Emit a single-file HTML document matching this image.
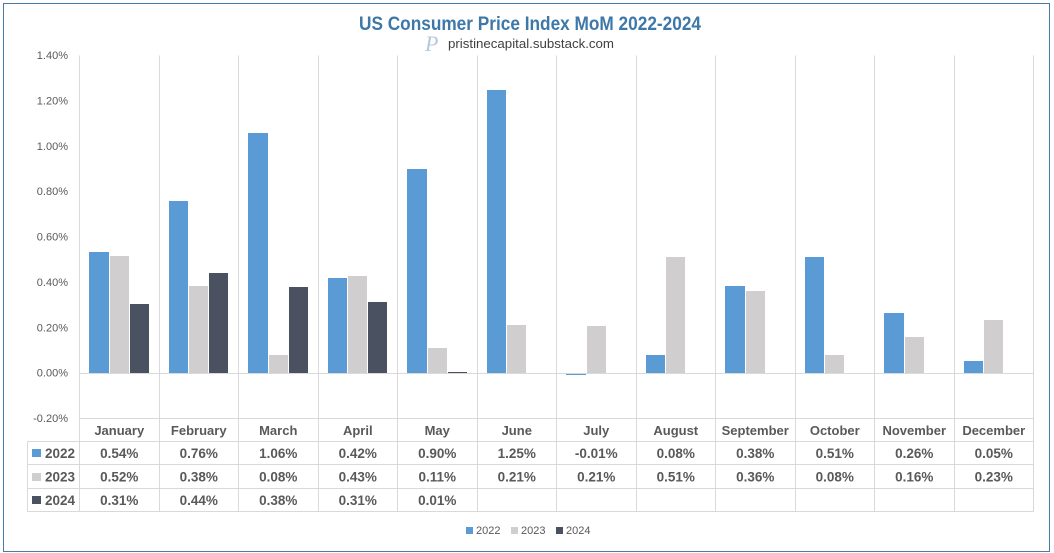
<!DOCTYPE html>
<html lang="en">
<head>
<meta charset="utf-8">
<title>US Consumer Price Index MoM 2022-2024</title>
<style>
html,body{margin:0;padding:0;background:#fff;width:1054px;height:553px;overflow:hidden}
svg{display:block;font-family:"Liberation Sans",sans-serif}
</style>
</head>
<body>
<svg id="chart" xmlns="http://www.w3.org/2000/svg" width="1054" height="553" viewBox="0 0 1054 553">
  <rect x="3.5" y="3.5" width="1046" height="548" fill="#fff" stroke="#4a7ba6" stroke-width="1"/>
  <text x="530" y="30" text-anchor="middle" font-size="19" font-weight="700" fill="#3d78a8" textLength="342" lengthAdjust="spacingAndGlyphs">US Consumer Price Index MoM 2022-2024</text>
  <text x="425" y="51" font-family="'Liberation Serif',serif" font-style="italic" font-size="22" fill="#b4c7db">P</text>
  <text x="448" y="48" font-size="13" fill="#404040" textLength="166" lengthAdjust="spacingAndGlyphs">pristinecapital.substack.com</text>
  <g id="bars"></g>
  <g id="grid"></g>
  <g id="labels"></g>
</svg>
<script>
const months = ["January","February","March","April","May","June","July","August","September","October","November","December"];
const seriesNames = ["2022","2023","2024"];
const seriesColors = ["#5b9bd5","#d0cece","#4a5161"];
const values2022 = [0.533,0.758,1.06,0.42,0.899,1.247,-0.01,0.08,0.384,0.51,0.264,0.052];
const values2023 = [0.515,0.383,0.079,0.43,0.11,0.211,0.207,0.51,0.36,0.08,0.16,0.234];
const values2024 = [0.304,0.44,0.379,0.313,0.005,null,null,null,null,null,null,null];
const printed2022 = ["0.54%","0.76%","1.06%","0.42%","0.90%","1.25%","-0.01%","0.08%","0.38%","0.51%","0.26%","0.05%"];
const printed2023 = ["0.52%","0.38%","0.08%","0.43%","0.11%","0.21%","0.21%","0.51%","0.36%","0.08%","0.16%","0.23%"];
const printed2024 = ["0.31%","0.44%","0.38%","0.31%","0.01%","","","","","","",""];
const yTicks = [1.40,1.20,1.00,0.80,0.60,0.40,0.20,0.00,-0.20];

const allSeries = [values2022, values2023, values2024];
const allPrinted = [printed2022, printed2023, printed2024];
const NS = "http://www.w3.org/2000/svg";
const plotLeft = 79.5, plotRight = 1033.5, tableLeft = 27.5;
const plotTop = 55.5, plotBottom = 418.5;
const rowLines = [418.5, 441.5, 464.5, 488.5, 511.5];
const catW = (plotRight - plotLeft) / months.length;
const barW = catW / 4;
const yMax = yTicks[0], yMin = yTicks[yTicks.length - 1];
function yScale(v){ return plotTop + (yMax - v) / (yMax - yMin) * (plotBottom - plotTop); }
function xCat(i){ return plotLeft + i * catW; }
function make(tag, attrs, parent, text){
  const el = document.createElementNS(NS, tag);
  for (const k in attrs) el.setAttribute(k, attrs[k]);
  if (text !== undefined) el.textContent = text;
  parent.appendChild(el);
  return el;
}
const gridG = document.getElementById("grid");
const barsG = document.getElementById("bars");
const labelsG = document.getElementById("labels");
const lineColor = "#d9d9d9", textColor = "#595959";

function line(x1, y1, x2, y2, name){
  const el = make("line", {x1, y1, x2, y2, stroke: lineColor, "stroke-width": 1}, gridG);
  
  
}
for (let i = 0; i <= months.length; i++) {
  const x = Math.round(xCat(i) - 0.5) + 0.5;
  line(x, plotTop, x, rowLines[4], "category-divider");
}
const zeroY = Math.floor(yScale(0)) + 0.5;
line(plotLeft, zeroY, plotRight, zeroY, "zero-axis-line");
line(plotLeft, rowLines[0], plotRight, rowLines[0], "table-top-line");
for (let r = 1; r < rowLines.length; r++) {
  line(tableLeft, rowLines[r], plotRight, rowLines[r], "table-row-line");
}
line(tableLeft, rowLines[1], tableLeft, rowLines[4], "table-left-line");

yTicks.forEach(function(t){
  const el = make("text", {x: 68, y: yScale(t) + 3.5, "text-anchor": "end", "font-size": 11, fill: textColor}, labelsG, t.toFixed(2) + "%");
  
  
});

allSeries.forEach(function(vals, s){
  vals.forEach(function(v, i){
    if (v === null) return;
    const raw = xCat(i) + barW / 2 + s * barW;
    const left = s === 0 ? Math.round(raw) : Math.ceil(raw);
    const right = Math.floor(raw + barW);
    const y0 = Math.round(yScale(0)), yv = Math.round(yScale(v));
    const top = Math.min(y0, yv);
    const h = Math.max(Math.abs(y0 - yv), 1);
    const el = make("rect", {x: left, y: top, width: right - left, height: h, fill: seriesColors[s]}, barsG);
    
    
  });
});

months.forEach(function(m, i){
  const el = make("text", {x: xCat(i) + catW / 2, y: 435, "text-anchor": "middle", "font-size": 13, "font-weight": 700, fill: textColor}, labelsG, m);
  
  
});

allPrinted.forEach(function(vals, s){
  const top = rowLines[s + 1], bottom = rowLines[s + 2];
  const mid = (top + bottom) / 2;
  const key = make("rect", {x: 32, y: Math.round(mid - 4), width: 9, height: 8, fill: seriesColors[s]}, labelsG);
  
  
  const head = make("text", {x: 45, y: mid + 5, "font-size": 13.5, "font-weight": 700, fill: textColor}, labelsG, seriesNames[s]);
  
  
  vals.forEach(function(v, i){
    if (v === "") return;
    const c = make("text", {x: xCat(i) + catW / 2, y: mid + 5, "text-anchor": "middle", "font-size": 13.5, "font-weight": 700, fill: textColor}, labelsG, v);
    
    
  });
});

seriesNames.forEach(function(n, s){
  const lx = 466 + s * 45;
  const k = make("rect", {x: lx, y: 527, width: 7, height: 7, fill: seriesColors[s]}, labelsG);
  
  
  const t = make("text", {x: lx + 10, y: 534, "font-size": 11, fill: textColor}, labelsG, n);
  
  
});
</script>
</body>
</html>
